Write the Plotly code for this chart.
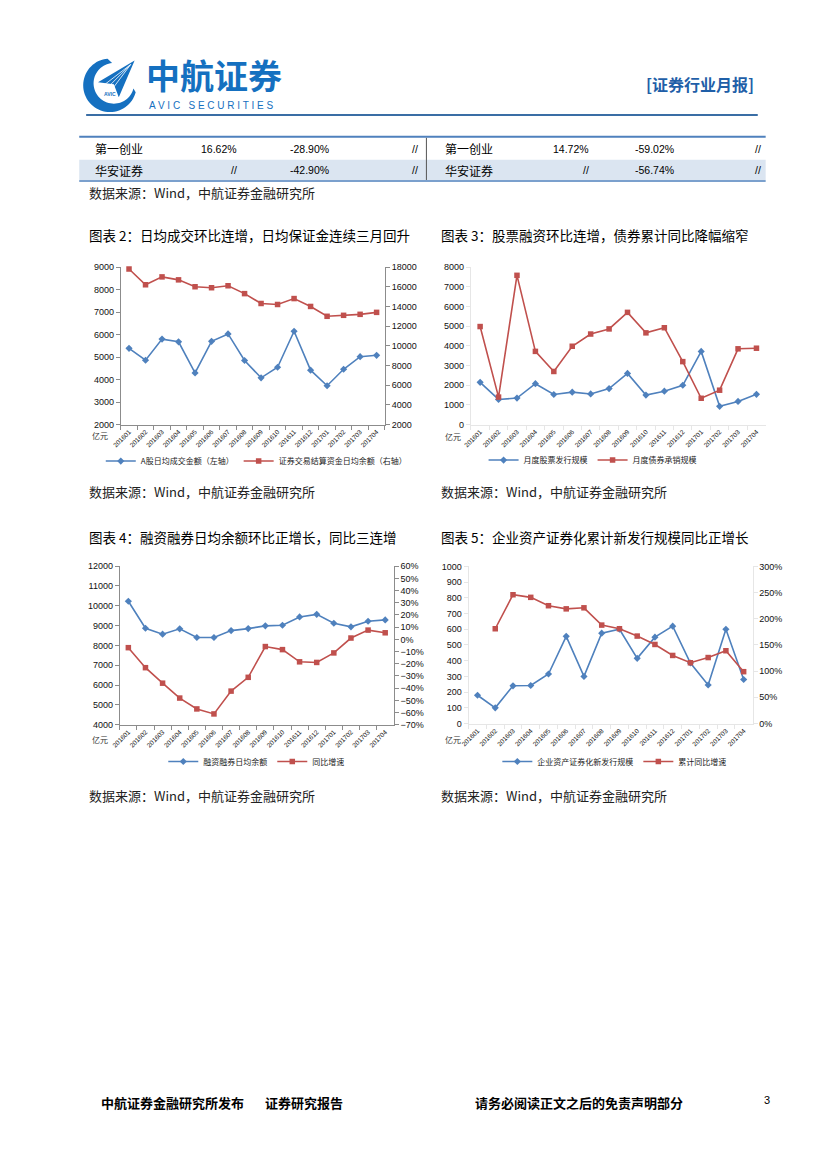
import plotly.graph_objects as go
import math

W, H = 827, 1169

months = ["201601", "201602", "201603", "201604", "201605", "201606", "201607", "201608",
          "201609", "201610", "201611", "201612", "201701", "201702", "201703", "201704"]

# Chart 2 (图表2)
a_turnover = [5390, 4860, 5800, 5680, 4300, 5700, 6030, 4850, 4080, 4550, 6150, 4420, 3730, 4460, 5020, 5080]
settle_funds = [17800, 16200, 17000, 16700, 16000, 15900, 16100, 15300, 14300, 14200, 14800, 14000, 13000, 13100, 13200, 13400]
# Chart 3 (图表3)
equity_issue = [2150, 1280, 1350, 2080, 1530, 1650, 1560, 1830, 2600, 1500, 1700, 2000, 3720, 930, 1180, 1540]
bond_under = [4980, 1400, 7580, 3720, 2700, 3980, 4600, 4860, 5700, 4660, 4920, 3200, 1340, 1750, 3850, 3880]
# Chart 4 (图表4)
margin_bal = [10230, 8870, 8570, 8840, 8400, 8400, 8750, 8850, 8990, 9020, 9440, 9570, 9120, 8940, 9220, 9290]
margin_yoy = [-6.8, -23.2, -35.9, -48.1, -57.0, -61.1, -42.4, -31.1, -5.9, -8.4, -18.4, -18.9, -11.1, 1.1, 7.6, 5.4]
# Chart 5 (图表5)
abs_issue = [180, 100, 240, 242, 315, 555, 300, 575, 600, 415, 550, 620, 385, 245, 600, 280]
abs_yoy = [None, 181, 246, 241, 225, 219, 221, 188, 181, 167, 151, 130, 116, 126, 139, 99]

# Table
tbl_names = ["第一创业", "华安证券"]
tbl_left_c2 = ["16.62%", "//"]
tbl_left_c3 = ["-28.90%", "-42.90%"]
tbl_left_c4 = ["//", "//"]
tbl_right_c2 = ["14.72%", "//"]
tbl_right_c3 = ["-59.02%", "-56.74%"]
tbl_right_c4 = ["//", "//"]

BLUE = "#4f81bd"
RED = "#c0504d"
CJK = "Noto Sans CJK SC"
NUMF = "Liberation Sans"


def px(x):
    return x / W


def py(y):
    return 1 - y / H


def path_from(points):
    s = "M %f,%f " % (px(points[0][0]), py(points[0][1]))
    for (x, y) in points[1:]:
        s += "L %f,%f " % (px(x), py(y))
    return s + "Z"


fig = go.Figure()

ann = []
shapes = []


def add_text(x, y, text, size=12, color="#000", xanchor="left", family=CJK, bold=False, yanchor="middle"):
    if bold:
        text = "<b>" + text + "</b>"
    ann.append(dict(x=px(x), y=py(y), xref="paper", yref="paper", text=text, showarrow=False,
                    xanchor=xanchor, yanchor=yanchor, font=dict(size=size, color=color, family=family),
                    borderpad=0))


def hline(x0, x1, y, color, width):
    shapes.append(dict(type="line", xref="paper", yref="paper", x0=px(x0), x1=px(x1), y0=py(y), y1=py(y),
                       line=dict(color=color, width=width)))


# ---------------- Header ----------------
LOGO = "#1570c0"
cx, cy = 102, 81
outer, inner = 27, 20.5
pts = []
for a in range(95, 346, 5):
    r = math.radians(a)
    pts.append((cx + outer * math.cos(r), cy - outer * math.sin(r)))
icx, icy = cx + 4, cy - 2
for a in range(345, 94, -5):
    r = math.radians(a)
    pts.append((icx + inner * math.cos(r), icy - inner * math.sin(r)))
shapes.append(dict(type="path", xref="paper", yref="paper", path=path_from(pts), fillcolor=LOGO, line=dict(width=0)))
plane = [(127, 56), (90, 78), (106, 80), (111, 93)]
shapes.append(dict(type="path", xref="paper", yref="paper", path=path_from(plane), fillcolor=LOGO, line=dict(width=0)))
for k in range(3):
    shapes.append(dict(type="line", xref="paper", yref="paper", x0=px(97 + 4 * k), y0=py(80 + 2 * k),
                       x1=px(123), y1=py(60), line=dict(color="white", width=0.8)))
add_text(102, 90, "AVIC", size=5, color=LOGO, xanchor="center", family=NUMF, bold=True)

add_text(138, 70, "中航证券", size=34, color=LOGO, family=CJK, bold=True)
add_text(141, 101.5, "A V I C &nbsp; S E C U R I T I E S", size=10, color=LOGO, family=NUMF)
add_text(754, 80, "[证券行业月报]", size=16, color="#1f5fa8", xanchor="right", bold=True)
hline(78, 757, 111, "#3a6ea5", 2)

# ---------------- Table ----------------
shapes.append(dict(type="rect", xref="paper", yref="paper", x0=px(71), x1=px(765), y0=py(176.5), y1=py(156),
                   fillcolor="#dbe5f1", line=dict(width=0)))
hline(71, 765, 133, BLUE, 2)
hline(71, 765, 177.5, BLUE, 1.5)
shapes.append(dict(type="line", xref="paper", yref="paper", x0=px(422), x1=px(422), y0=py(134), y1=py(176.5),
                   line=dict(color="#555", width=1)))
row_y = [145, 166.5]
for i in range(2):
    y = row_y[i]
    add_text(86, y, tbl_names[i], size=12)
    add_text(232, y, tbl_left_c2[i], size=10.5, xanchor="right", family=NUMF)
    add_text(283, y, tbl_left_c3[i], size=10.5, xanchor="left", family=NUMF)
    add_text(415, y, tbl_left_c4[i], size=10.5, xanchor="right", family=NUMF)
    add_text(440, y, tbl_names[i], size=12)
    add_text(587, y, tbl_right_c2[i], size=10.5, xanchor="right", family=NUMF)
    add_text(632, y, tbl_right_c3[i], size=10.5, xanchor="left", family=NUMF)
    add_text(761, y, tbl_right_c4[i], size=10.5, xanchor="right", family=NUMF)

SRC = "数据来源：Wind，中航证券金融研究所"
add_text(80, 189, SRC, size=13, color="#222")

# ---------------- Chart titles / sources ----------------
add_text(80, 232, "图表 2：日均成交环比连增，日均保证金连续三月回升", size=13.5)
add_text(436, 232, "图表 3：股票融资环比连增，债券累计同比降幅缩窄", size=13.5)
add_text(80, 491, SRC, size=13, color="#222")
add_text(436, 491, SRC, size=13, color="#222")
add_text(80, 537, "图表 4：融资融券日均余额环比正增长，同比三连增", size=13.5)
add_text(436, 537, "图表 5：企业资产证券化累计新发行规模同比正增长", size=13.5)
add_text(80, 797, SRC, size=13, color="#222")
add_text(436, 797, SRC, size=13, color="#222")

# 亿元 labels
for (x, y) in [(83, 434), (440, 435), (83, 741), (440, 741)]:
    add_text(x, y, "亿元", size=8, color="#333")

# ---------------- Footer ----------------
add_text(92, 1107, "中航证券金融研究所发布", size=13, bold=True)
add_text(258, 1107, "证券研究报告", size=13, bold=True)
add_text(470, 1107, "请务必阅读正文之后的免责声明部分", size=13, bold=True)
add_text(762, 1104, "3", size=11, family=NUMF)


# ---------------- Charts ----------------
def line_trace(y, name, color, symbol, xa, ya, legend):
    return go.Scatter(x=months, y=y, name=name, mode="lines+markers", xaxis=xa, yaxis=ya, legend=legend,
                      line=dict(color=color, width=1.6), marker=dict(symbol=symbol, size=5.5, color=color),
                      cliponaxis=False, connectgaps=False)


fig.add_trace(line_trace(a_turnover, "A股日均成交金额（左轴）", BLUE, "diamond", "x", "y", "legend"))
fig.add_trace(line_trace(settle_funds, "证券交易结算资金日均余额（右轴）", RED, "square", "x", "y2", "legend"))
fig.add_trace(line_trace(equity_issue, "月度股票发行规模", BLUE, "diamond", "x2", "y3", "legend2"))
fig.add_trace(line_trace(bond_under, "月度债券承销规模", RED, "square", "x2", "y3", "legend2"))
fig.add_trace(line_trace(margin_bal, "融资融券日均余额", BLUE, "diamond", "x3", "y4", "legend3"))
fig.add_trace(line_trace(margin_yoy, "同比增速", RED, "square", "x3", "y5", "legend3"))
fig.add_trace(line_trace(abs_issue, "企业资产证券化新发行规模", BLUE, "diamond", "x4", "y6", "legend4"))
fig.add_trace(line_trace(abs_yoy, "累计同比增速", RED, "square", "x4", "y7", "legend4"))

tickfont = dict(size=9, color="#111", family=NUMF)
xtickfont = dict(size=6.5, color="#111", family=NUMF)


def xaxis(x0, x1, anchor, axcolor):
    return dict(domain=[px(x0), px(x1)], anchor=anchor, type="category", range=[-0.5, 15.5],
                tickangle=-45, tickfont=xtickfont, showgrid=False, zeroline=False,
                showline=True, linecolor=axcolor, linewidth=1, ticks="outside", tickson="boundaries",
                ticklen=4, tickcolor=axcolor, fixedrange=True)


def yaxis(y0, y1, rng, dtick, anchor, axcolor, side="left", overlaying=None, suffix=""):
    d = dict(domain=[py(y1), py(y0)], anchor=anchor, range=rng, dtick=dtick, tickfont=tickfont,
             showgrid=False, zeroline=False, showline=True, linecolor=axcolor, linewidth=1,
             ticks="outside", ticklen=4, tickcolor=axcolor, side=side, ticksuffix=suffix, fixedrange=True,
             tickformat="d", exponentformat="none")
    if overlaying:
        d["overlaying"] = overlaying
    return d


GRAY = "#8c8c8c"
FAINT = "#e6e6e6"

lay = dict(
    width=W, height=H, margin=dict(l=0, r=0, t=0, b=0), paper_bgcolor="white", plot_bgcolor="rgba(0,0,0,0)",
    showlegend=True, annotations=ann, shapes=shapes,
    xaxis=xaxis(113, 380, "y", GRAY),
    yaxis=yaxis(264.3, 423.3, [2000, 9000], 1000, "x", GRAY),
    yaxis2=yaxis(264.3, 423.3, [2000, 18000], 2000, "x", GRAY, side="right", overlaying="y"),
    xaxis2=xaxis(467, 765, "y3", FAINT),
    yaxis3=yaxis(264.3, 423.3, [0, 8000], 1000, "x2", FAINT),
    xaxis3=xaxis(112, 389, "y4", GRAY),
    yaxis4=yaxis(566, 726, [4000, 12000], 1000, "x3", GRAY),
    yaxis5=yaxis(566, 726, [-70, 60], 10, "x3", GRAY, side="right", overlaying="y4", suffix="%"),
    xaxis4=xaxis(464.7, 751.7, "y6", FAINT),
    yaxis6=yaxis(566.3, 724.7, [0, 1000], 100, "x4", FAINT),
    yaxis7=yaxis(566.3, 724.7, [0, 300], 50, "x4", FAINT, side="right", overlaying="y6", suffix="%"),
)


def legend(x, y):
    return dict(orientation="h", x=px(x), y=py(y), xanchor="center", yanchor="middle",
                font=dict(size=8, color="#222", family=CJK), bgcolor="rgba(0,0,0,0)",
                itemwidth=30, tracegroupgap=0, itemclick=False)


lay["legend"] = legend(250, 460)
lay["legend2"] = legend(590, 459)
lay["legend3"] = legend(250, 763)
lay["legend4"] = legend(612, 763)

fig.update_layout(**lay)
fig.write_html("out.html", config={"displayModeBar": False},
               post_script="document.body.style.margin='0';")
